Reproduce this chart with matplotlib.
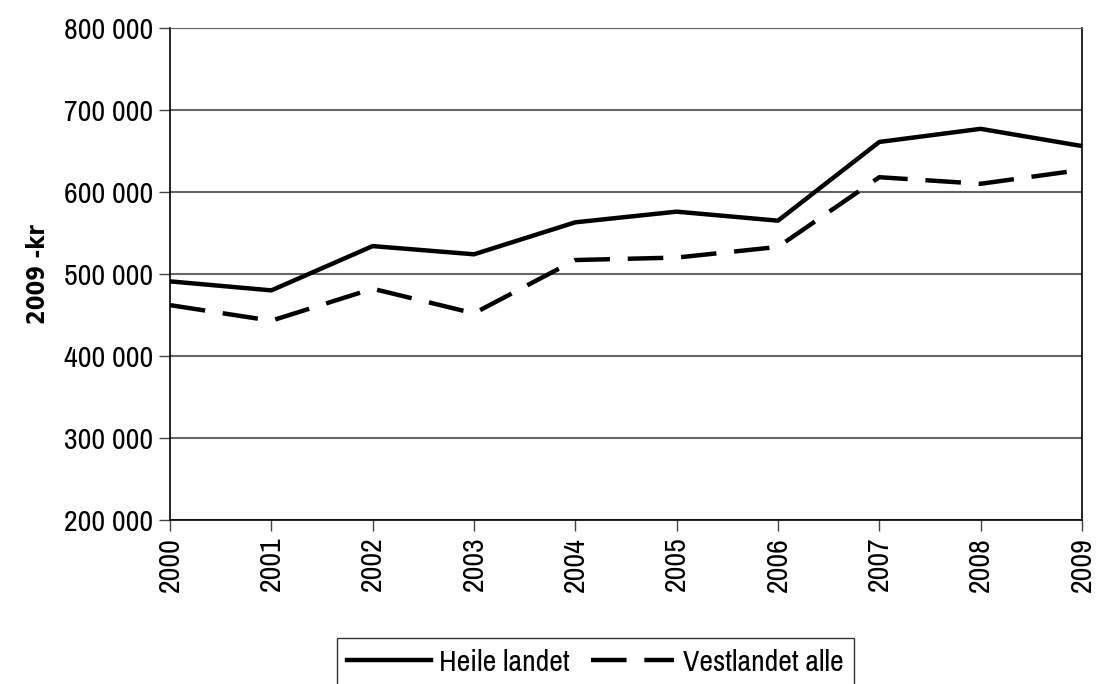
import matplotlib
matplotlib.use("Agg")
from matplotlib import pyplot as plt
from matplotlib.ticker import FuncFormatter

years = [2000, 2001, 2002, 2003, 2004, 2005, 2006, 2007, 2008, 2009]
heile_landet = [491000, 480000, 534000, 524000, 563000, 576000, 565000, 661000, 677000, 656000]
vestlandet_alle = [462000, 443000, 482000, 452000, 517000, 520000, 533000, 618000, 610000, 627000]

plt.rcParams['font.family'] = ['Archivo Narrow', 'DejaVu Sans']

fig = plt.figure(figsize=(10.96, 6.84), dpi=100)
ax = fig.add_axes([0.1551, 0.2398, 0.8321, 0.7193])

ax.plot(years, heile_landet, color='black', lw=3.2, label='Heile landet')
ax.plot(years, vestlandet_alle, color='black', lw=3.2, dashes=(8, 4), label='Vestlandet alle')

ax.set_xlim(2000, 2009)
ax.set_ylim(200000, 800000)
ax.set_yticks(range(200000, 800001, 100000))
ax.yaxis.set_major_formatter(FuncFormatter(lambda v, p: '{:,}'.format(int(v)).replace(',', ' ')))
ax.set_xticks(years)
ax.set_xticklabels([str(y) for y in years], rotation=90)
ax.tick_params(axis='both', labelsize=21.5, length=8, width=1, direction='out', color='#444444', pad=4)
ax.grid(axis='y', color='#666666', lw=1.5)
ax.set_axisbelow(True)
for s in ['left', 'bottom', 'right']:
    ax.spines[s].set_color('black')
    ax.spines[s].set_linewidth(1.2)
ax.spines['top'].set_color('#666666')

ax.set_ylabel('2009 -kr', fontsize=17, fontweight='bold', family='DejaVu Sans', fontstretch='condensed')
ax.yaxis.set_label_coords(-0.132, 0.5)

leg = fig.legend(loc='lower center', bbox_to_anchor=(0.543, -0.025), ncol=2, fontsize=21.5,
                 frameon=True, fancybox=False, edgecolor='black', handlelength=2.8,
                 handletextpad=0.28, columnspacing=0.7, borderpad=0.35, borderaxespad=0.5)
leg.get_frame().set_linewidth(1.0)

fig.savefig('out.png', dpi=100)
